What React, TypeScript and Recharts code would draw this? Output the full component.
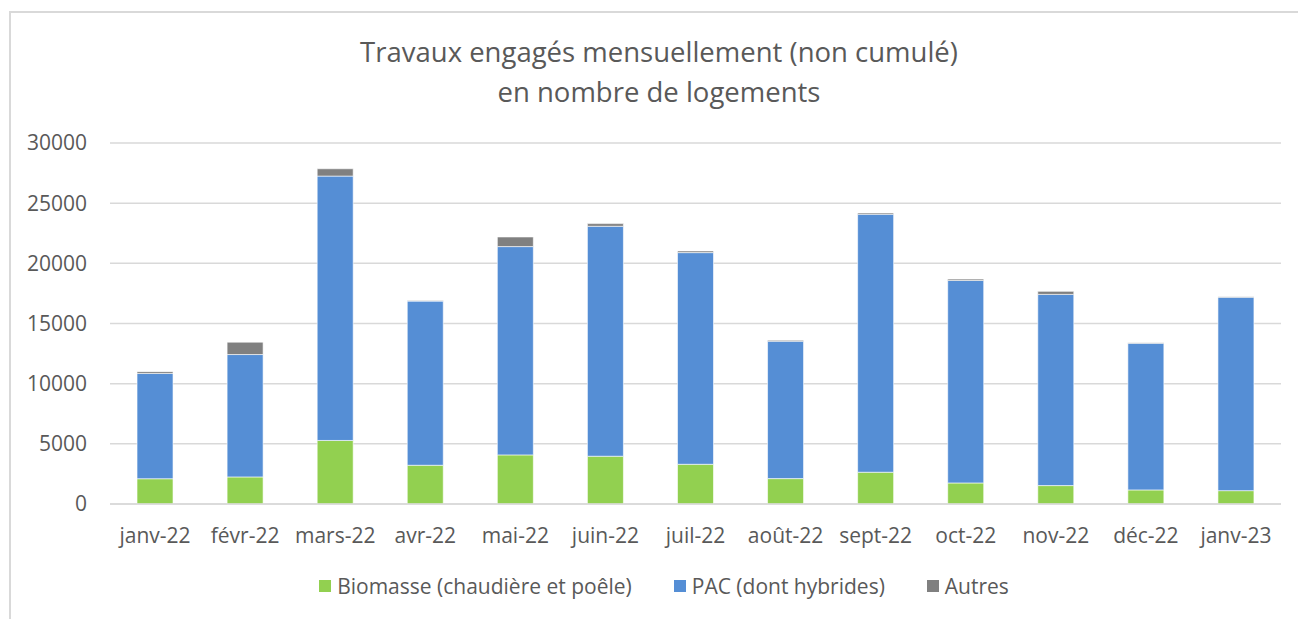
import React from "react"
import {
  BarChart,
  Bar,
  XAxis,
  YAxis,
  CartesianGrid,
} from "recharts"

const months = [
  "janv-22", "févr-22", "mars-22", "avr-22", "mai-22", "juin-22", "juil-22",
  "août-22", "sept-22", "oct-22", "nov-22", "déc-22", "janv-23",
]
const biomasse = [2100, 2250, 5280, 3220, 4080, 3970, 3300, 2110, 2640, 1750, 1530, 1170, 1110]
const pac = [8750, 10170, 21970, 13640, 17310, 19110, 17590, 11420, 21440, 16830, 15890, 12190, 16080]
const autres = [150, 1030, 610, 60, 800, 220, 140, 80, 110, 110, 250, 50, 30]
const yTicks = [0, 5000, 10000, 15000, 20000, 25000, 30000]
const boundaryTicks = [0, 1, 2, 3, 4, 5, 6, 7, 8, 9, 10, 11, 12, 13]

const FONT = "'Open Sans', sans-serif"
const TEXT = "#595959"
const LINE = "#d9d9d9"

const data = months.map((m, i) => ({
  month: m,
  biomasse: biomasse[i],
  pac: pac[i],
  autres: autres[i],
}))

const legendItems = [
  { label: "Biomasse (chaudière et poêle)", color: "#92d050" },
  { label: "PAC (dont hybrides)", color: "#558ed5" },
  { label: "Autres", color: "#808080" },
]

function LegendRow() {
  return (
    <div style={{ display: "flex", justifyContent: "center", fontFamily: FONT, fontSize: 21, color: TEXT }}>
      {legendItems.map((it) => (
        <div key={it.label} style={{ display: "flex", alignItems: "center", margin: "0 21px" }}>
          <span style={{ width: 12, height: 12, background: it.color, marginRight: 6, display: "inline-block" }} />
          <span>{it.label}</span>
        </div>
      ))}
    </div>
  )
}

export default function App() {
  return (
    <div style={{ position: "absolute", left: 0, top: 0, width: 1298, height: 619, overflow: "hidden", background: "#fff" }}>
      <div
        style={{
          position: "absolute",
          left: 9,
          top: 11,
          width: 1320,
          height: 640,
          border: `2px solid ${LINE}`,
        }}
      />
      <div
        style={{
          position: "absolute",
          top: 32,
          left: 0,
          width: 1318,
          textAlign: "center",
          fontFamily: FONT,
          fontSize: 27.5,
          lineHeight: "40px",
          color: TEXT,
        }}
      >
        Travaux engagés mensuellement (non cumulé)
        <br />
        en nombre de logements
      </div>
      <div style={{ position: "absolute", left: 0, top: 0 }}>
        <BarChart
          width={1298}
          height={619}
          data={data}
          margin={{ top: 143, right: 17, bottom: 85, left: 10 }}
          barCategoryGap="30%"
        >
          <CartesianGrid vertical={false} stroke={LINE} strokeWidth={1.5} />
          <XAxis
            dataKey="month"
            xAxisId="cat"
            height={30}
            axisLine={{ stroke: LINE, strokeWidth: 1.5 }}
            tickLine={false}
            tickMargin={18}
            tick={{ fontSize: 21, fill: TEXT, fontFamily: FONT }}
            interval={0}
          />
          <XAxis
            xAxisId="ticks"
            type="number"
            domain={[0, 13]}
            ticks={boundaryTicks}
            axisLine={false}
            tickLine={{ stroke: LINE, strokeWidth: 1.5 }}
            tickSize={6}
            tick={false}
            height={0}
          />
          <YAxis
            width={100}
            domain={[0, 30000]}
            ticks={yTicks}
            axisLine={false}
            tickLine={false}
            tickMargin={23}
            tickSize={0}
            tick={{ fontSize: 21, fill: TEXT, fontFamily: FONT }}
          />
          <Bar xAxisId="cat" dataKey="biomasse" stackId="a" fill="#92d050" stroke="#fff" strokeWidth={0.6} isAnimationActive={false} />
          <Bar xAxisId="cat" dataKey="pac" stackId="a" fill="#558ed5" stroke="#fff" strokeWidth={0.6} isAnimationActive={false} />
          <Bar xAxisId="cat" dataKey="autres" stackId="a" fill="#808080" stroke="#fff" strokeWidth={0.6} isAnimationActive={false} />
        </BarChart>
      </div>
      <div style={{ position: "absolute", left: 15, top: 572, width: 1298 }}>
        <LegendRow />
      </div>
    </div>
  )
}
